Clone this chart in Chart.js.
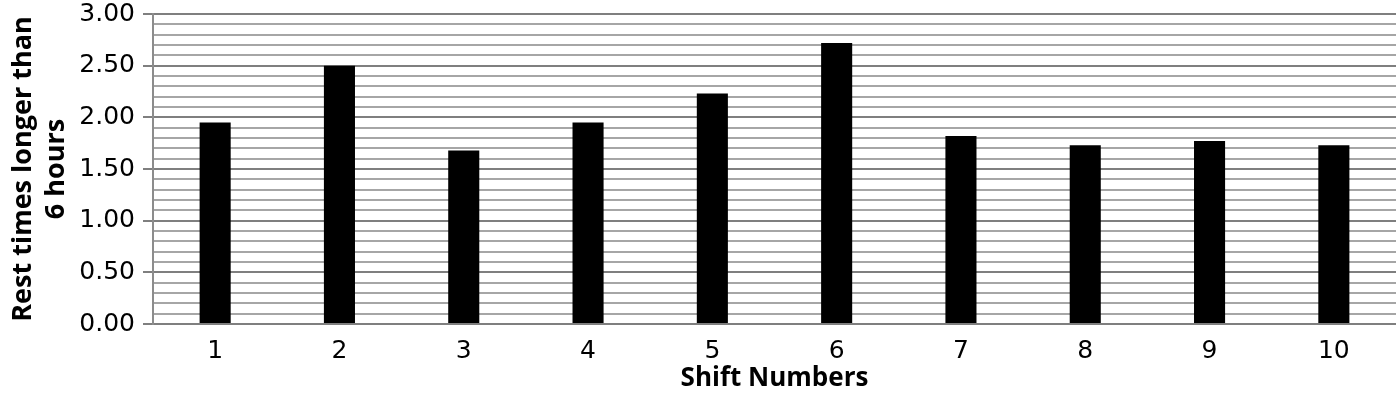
<!DOCTYPE html>
<html>
<head>
<meta charset="utf-8">
<script src="https://cdn.jsdelivr.net/npm/chart.js@4"></script>
<style>
  html, body { margin: 0; padding: 0; background: #fff; }
  #wrap { width: 1400px; height: 394px; }
</style>
</head>
<body>
<div id="wrap"><canvas id="barchart"></canvas></div>
<script>
const shifts = ['1', '2', '3', '4', '5', '6', '7', '8', '9', '10'];
const restTimes = [1.95, 2.50, 1.68, 1.95, 2.23, 2.72, 1.82, 1.73, 1.77, 1.73];
const yTitle = ['Rest times longer than', '6 hours'];
const xTitle = 'Shift Numbers';

const isMajor = v => Math.abs(v * 2 - Math.round(v * 2)) < 1e-6;

const ctx = document.getElementById('barchart').getContext('2d');
const barchart = new Chart(ctx, {
    type: 'bar',
    data: {
        labels: shifts,
        datasets: [
            {
                label: 'Rest times',
                data: restTimes,
                backgroundColor: '#000000',
                borderWidth: 0,
                categoryPercentage: 1,
                barPercentage: 0.25
            }
        ]
    },
    options: {
        responsive: true,
        maintainAspectRatio: false,
        animation: false,
        layout: {
            padding: { top: 14, right: 4, left: 7, bottom: 0 }
        },
        scales: {
            x: {
                afterFit: s => { s.height = 70; },
                grid: { display: false, drawTicks: false },
                border: { display: false },
                ticks: {
                    color: '#000',
                    padding: 12,
                    font: { family: 'DejaVu Sans', size: 25 }
                },
                title: {
                    display: true,
                    text: xTitle,
                    color: '#000',
                    padding: { top: 0, bottom: 0 },
                    font: { family: 'Open Sans', size: 26, weight: 'bold' }
                }
            },
            y: {
                min: 0,
                max: 3,
                afterFit: s => { s.width = 146; s.paddingTop = 0; s.paddingBottom = 0; },
                border: { display: true, color: '#8c8c8c', width: 2 },
                grid: {
                    color: c => isMajor(c.tick.value) ? '#7f7f7f' : '#a6a6a6',
                    lineWidth: 2,
                    tickLength: 10,
                    tickColor: c => isMajor(c.tick.value) ? '#7f7f7f' : 'rgba(0,0,0,0)',
                    tickWidth: 2
                },
                ticks: {
                    stepSize: 0.1,
                    autoSkip: false,
                    color: '#000',
                    padding: 8,
                    font: { family: 'DejaVu Sans', size: 25 },
                    callback: v => isMajor(v) ? v.toFixed(2) : ''
                },
                title: {
                    display: true,
                    text: yTitle,
                    color: '#000',
                    padding: { top: 0, bottom: 0 },
                    font: { family: 'Open Sans', size: 27, weight: 'bold', lineHeight: 1.22 }
                }
            }
        },
        plugins: {
            legend: { display: false },
            tooltip: { enabled: false }
        }
    }
});
</script>
</body>
</html>
